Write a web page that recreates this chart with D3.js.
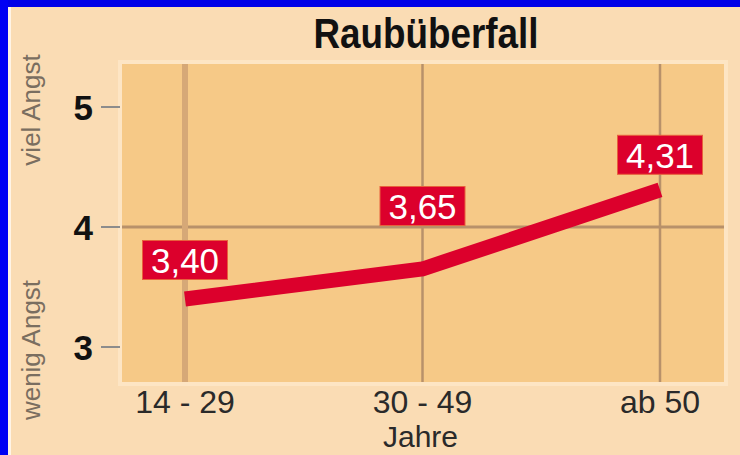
<!DOCTYPE html>
<html>
<head>
<meta charset="utf-8">
<script src="https://cdn.jsdelivr.net/npm/d3@7"></script>
<style>
  html, body { margin: 0; padding: 0; background: #fadcb4; }
  svg { display: block; }
</style>
</head>
<body>
<div id="chart"></div>
<script>
// data
const categories = ["14 - 29", "30 - 49", "ab 50"];
const values = [3.40, 3.65, 4.31];
const valueLabels = ["3,40", "3,65", "4,31"];
const yTicks = [3, 4, 5];
const labelDy = [-39, -63, -35]; // box offset above the point

const width = 740, height = 455;

const svg = d3.select("#chart").append("svg")
    .attr("width", width)
    .attr("height", height);

// background + blue frame
svg.append("rect").attr("width", width).attr("height", height).attr("fill", "#fadcb4");
svg.append("rect").attr("x", 0).attr("y", 0).attr("width", width).attr("height", 7).attr("fill", "#0000e8");
svg.append("rect").attr("x", 0).attr("y", 0).attr("width", 8).attr("height", height).attr("fill", "#0000f4");
svg.append("rect").attr("x", 8).attr("y", 7).attr("width", 3).attr("height", height - 7).attr("fill", "#fff4e6");

// scales
var x = d3.scalePoint()
    .domain(categories)
    .range([185, 660]);

var y = d3.scaleLinear()
    .domain([3, 5])
    .range([347, 107]);

// plot area
svg.append("rect")
    .attr("x", 118).attr("y", 60)
    .attr("width", 610).attr("height", 326)
    .attr("fill", "#fde5c4");
svg.append("rect")
    .attr("x", 122).attr("y", 64)
    .attr("width", 602).attr("height", 318)
    .attr("fill", "#f6c987");

// grid
svg.append("line")
    .attr("x1", 122).attr("x2", 724)
    .attr("y1", y(4)).attr("y2", y(4))
    .attr("stroke", "#b8916a").attr("stroke-width", 3);

svg.selectAll(".vgrid")
  .data(categories)
  .enter().append("line")
    .attr("class", "vgrid")
    .attr("x1", d => x(d)).attr("x2", d => x(d))
    .attr("y1", 64).attr("y2", 382)
    .attr("stroke", (d, i) => i === 0 ? "#d6a877" : "#b8916a")
    .attr("stroke-width", (d, i) => i === 0 ? 6 : 2.5);

// y axis ticks and labels
svg.selectAll(".ytick")
  .data(yTicks)
  .enter().append("line")
    .attr("class", "ytick")
    .attr("x1", 101).attr("x2", 120)
    .attr("y1", d => y(d)).attr("y2", d => y(d))
    .attr("stroke", "#8c8c8c").attr("stroke-width", 2);

svg.selectAll(".ylabel")
  .data(yTicks)
  .enter().append("text")
    .attr("class", "ylabel")
    .attr("x", 93)
    .attr("y", d => y(d) + 13)
    .attr("text-anchor", "end")
    .attr("font-family", "Liberation Sans, Arial, sans-serif")
    .attr("font-weight", "bold")
    .attr("font-size", 35)
    .attr("fill", "#111")
    .text(d => d);

// rotated side labels
svg.append("text")
    .attr("transform", "translate(40," + ((y(5) + y(4)) / 2 - 57) + ") rotate(-90)")
    .attr("text-anchor", "middle")
    .attr("font-family", "Liberation Sans, Arial, sans-serif")
    .attr("font-size", 26)
    .attr("fill", "#7a6e60")
    .text("viel Angst");

svg.append("text")
    .attr("transform", "translate(40," + (y(3) + 3) + ") rotate(-90)")
    .attr("text-anchor", "middle")
    .attr("font-family", "Liberation Sans, Arial, sans-serif")
    .attr("font-size", 26)
    .attr("fill", "#7a6e60")
    .text("wenig Angst");

// x labels
svg.selectAll(".xlabel")
  .data(categories)
  .enter().append("text")
    .attr("class", "xlabel")
    .attr("x", d => x(d))
    .attr("y", 413)
    .attr("text-anchor", "middle")
    .attr("font-family", "Liberation Sans, Arial, sans-serif")
    .attr("font-size", 32)
    .attr("fill", "#2a2a2a")
    .text(d => d);

svg.append("text")
    .attr("x", x(categories[1]) - 2)
    .attr("y", 447)
    .attr("text-anchor", "middle")
    .attr("font-family", "Liberation Sans, Arial, sans-serif")
    .attr("font-size", 30)
    .attr("fill", "#2a2a2a")
    .text("Jahre");

// title
svg.append("text")
    .attr("x", 426)
    .attr("y", 48)
    .attr("text-anchor", "middle")
    .attr("font-family", "Liberation Sans, Arial, sans-serif")
    .attr("font-weight", "bold")
    .attr("font-size", 42)
    .attr("textLength", 225)
    .attr("lengthAdjust", "spacingAndGlyphs")
    .attr("fill", "#111")
    .text("Raubüberfall");

// line
const pts = categories.map((c, i) => ({ cat: c, v: values[i] }));
svg.append("path")
    .datum(pts)
    .attr("fill", "none")
    .attr("stroke", "#dc002c")
    .attr("stroke-width", 15)
    .attr("d", d3.line()
        .x(d => x(d.cat))
        .y(d => y(d.v)));

// value labels
const lab = svg.selectAll(".vlabel")
  .data(pts)
  .enter().append("g")
    .attr("class", "vlabel")
    .attr("transform", (d, i) => "translate(" + x(d.cat) + "," + (y(d.v) + labelDy[i]) + ")");

lab.append("rect")
    .attr("x", -42.5).attr("y", -19.5)
    .attr("width", 85).attr("height", 39)
    .attr("fill", "#dc002c")
    .attr("stroke", "#e8603c").attr("stroke-width", 1);

lab.append("text")
    .attr("y", 13)
    .attr("text-anchor", "middle")
    .attr("font-family", "Liberation Sans, Arial, sans-serif")
    .attr("font-size", 35)
    .attr("fill", "#fff")
    .text((d, i) => valueLabels[i]);
</script>
</body>
</html>
